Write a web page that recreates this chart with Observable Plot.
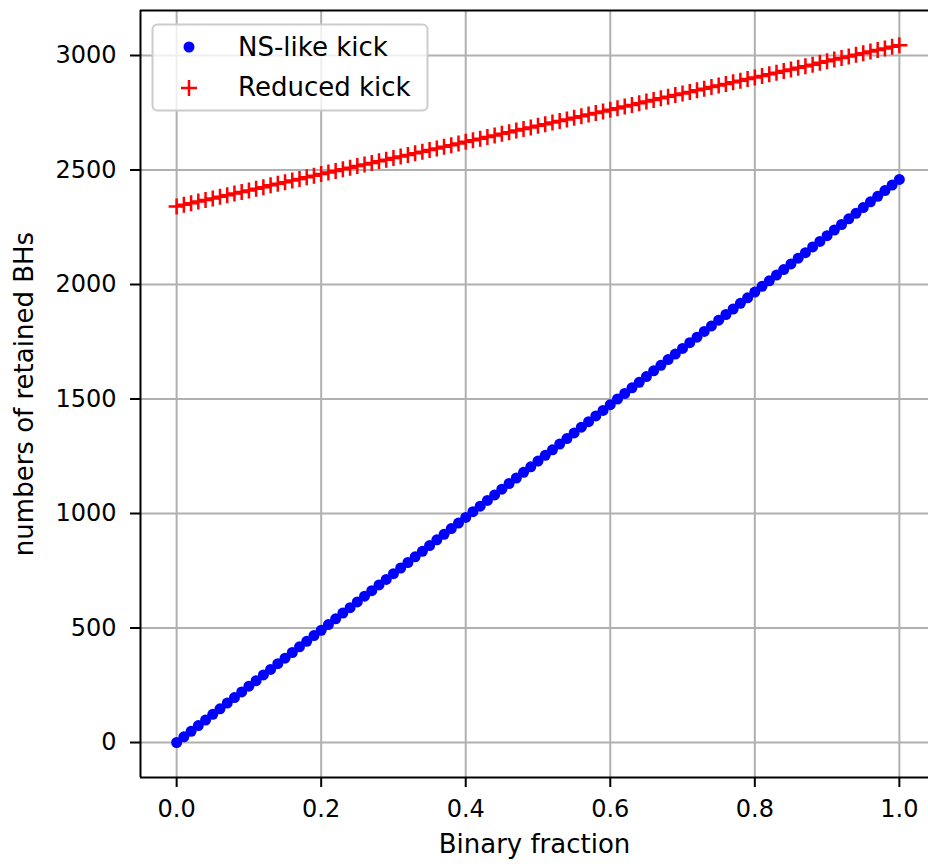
<!DOCTYPE html>
<html>
<head>
<meta charset="utf-8">
<script src="https://cdn.jsdelivr.net/npm/d3@7"></script>
<script src="https://cdn.jsdelivr.net/npm/@observablehq/plot@0.6"></script>
<style>
  html, body { margin: 0; padding: 0; background: #fff; }
  svg { display: block; }
</style>
</head>
<body>
<script>
// Binary fraction (x)
const binaryFraction = [
  0.00,0.01,0.02,0.03,0.04,0.05,0.06,0.07,0.08,0.09,
  0.10,0.11,0.12,0.13,0.14,0.15,0.16,0.17,0.18,0.19,
  0.20,0.21,0.22,0.23,0.24,0.25,0.26,0.27,0.28,0.29,
  0.30,0.31,0.32,0.33,0.34,0.35,0.36,0.37,0.38,0.39,
  0.40,0.41,0.42,0.43,0.44,0.45,0.46,0.47,0.48,0.49,
  0.50,0.51,0.52,0.53,0.54,0.55,0.56,0.57,0.58,0.59,
  0.60,0.61,0.62,0.63,0.64,0.65,0.66,0.67,0.68,0.69,
  0.70,0.71,0.72,0.73,0.74,0.75,0.76,0.77,0.78,0.79,
  0.80,0.81,0.82,0.83,0.84,0.85,0.86,0.87,0.88,0.89,
  0.90,0.91,0.92,0.93,0.94,0.95,0.96,0.97,0.98,0.99,
  1.00
];
// NS-like kick: numbers of retained BHs
const nsLikeKick = [
  0,25,49,74,98,123,147,172,196,221,
  246,270,295,319,344,368,393,418,442,467,
  490,515,540,565,589,614,639,663,688,712,
  737,762,786,811,835,860,885,909,934,958,
  983,1008,1032,1057,1081,1106,1131,1155,1180,1204,
  1229,1254,1278,1303,1327,1352,1377,1401,1426,1450,
  1475,1500,1524,1549,1573,1598,1623,1647,1672,1696,
  1721,1746,1770,1795,1819,1844,1869,1893,1918,1942,
  1967,1992,2016,2041,2065,2090,2115,2139,2164,2188,
  2213,2238,2262,2287,2311,2336,2361,2385,2410,2434,
  2459
];
// Reduced kick: numbers of retained BHs
const reducedKick = [
  2341,2348,2355,2362,2369,2376,2383,2390,2397,2404,
  2411,2418,2425,2433,2440,2447,2454,2461,2468,2475,
  2482,2489,2496,2503,2510,2517,2524,2531,2538,2545,
  2552,2559,2566,2573,2580,2587,2594,2601,2608,2616,
  2623,2630,2637,2644,2651,2658,2665,2672,2679,2686,
  2693,2700,2707,2714,2721,2728,2735,2742,2749,2756,
  2763,2770,2777,2784,2792,2799,2806,2813,2820,2827,
  2834,2841,2848,2855,2862,2869,2876,2883,2890,2897,
  2904,2911,2918,2925,2932,2939,2946,2953,2960,2968,
  2975,2982,2989,2996,3003,3010,3017,3024,3031,3038,
  3045
];
const xTicks = [0.0, 0.2, 0.4, 0.6, 0.8, 1.0];
const yTicks = [0, 500, 1000, 1500, 2000, 2500, 3000];
const seriesNames = ["NS-like kick", "Reduced kick"];
const seriesColors = ["#0000ff", "#ff0000"];
const xLabel = "Binary fraction";
const yLabel = "numbers of retained BHs";

const nsData = binaryFraction.map((x, i) => ({x, y: nsLikeKick[i]}));
const redData = binaryFraction.map((x, i) => ({x, y: reducedKick[i]}));

// matplotlib-style stroked "+" marker
const plusSymbol = {
  draw(context, size) {
    const s = Math.sqrt(size / Math.PI);
    context.moveTo(-s, 0); context.lineTo(s, 0);
    context.moveTo(0, -s); context.lineTo(0, s);
  }
};

const xDomain = [-0.05, 1.05];
const yDomain = [-152.8, 3196.5];

const chart = Plot.plot({
  width: 928,
  height: 864,
  marginLeft: 140,
  marginTop: 10,
  marginBottom: 87,
  marginRight: 0,
  x: {domain: xDomain, range: [140, 935]},
  y: {domain: yDomain, range: [777, 10]},
  style: {fontFamily: "'DejaVu Sans', sans-serif", fontSize: "24px", color: "#000", background: "#fff", overflow: "hidden"},
  marks: [
    Plot.gridX(xTicks, {stroke: "#b0b0b0", strokeOpacity: 1, strokeWidth: 2}),
    Plot.gridY(yTicks, {stroke: "#b0b0b0", strokeOpacity: 1, strokeWidth: 2}),
    Plot.axisX(xTicks, {tickFormat: d => d.toFixed(1), tickSize: 10, tickPadding: 12, strokeWidth: 2, fontSize: 24, label: null}),
    Plot.axisY(yTicks, {tickFormat: d3.format("d"), tickSize: 10, tickPadding: 14, strokeWidth: 2, fontSize: 24, label: null}),
    Plot.dot(nsData, {x: "x", y: "y", r: 5.5, fill: seriesColors[0], stroke: null}),
    Plot.dot(redData, {x: "x", y: "y", r: 8, symbol: plusSymbol, stroke: seriesColors[1], strokeWidth: 2.5, fill: "none"}),
    Plot.ruleX([xDomain[0]], {stroke: "#000", strokeWidth: 2}),
    Plot.ruleY(yDomain, {stroke: "#000", strokeWidth: 2}),
    Plot.text([xLabel], {frameAnchor: "bottom", lineAnchor: "top", textAnchor: "middle", dy: 57, fontSize: 26, fill: "#000"}),
    Plot.text([yLabel], {frameAnchor: "left", lineAnchor: "top", textAnchor: "middle", rotate: -90, dx: -125.5, fontSize: 26, fill: "#000"})
  ]
});

// Legend (matplotlib-style, inside axes, upper left)
const svg = d3.select(chart);
const lg = svg.append("g")
  .attr("font-family", "'DejaVu Sans', sans-serif")
  .attr("font-size", 26)
  .attr("text-anchor", "start");
lg.append("rect")
  .attr("x", 152.5).attr("y", 24.5).attr("width", 275).attr("height", 86)
  .attr("rx", 5).attr("ry", 5)
  .attr("fill", "#fff").attr("fill-opacity", 0.8)
  .attr("stroke", "#cccccc").attr("stroke-width", 2);
lg.append("circle").attr("cx", 189).attr("cy", 47).attr("r", 5.5).attr("fill", seriesColors[0]);
lg.append("path").attr("d", "M181,88H197M189,80V96").attr("stroke", seriesColors[1]).attr("stroke-width", 2.5).attr("fill", "none");
lg.append("text").attr("x", 238).attr("y", 56).attr("text-anchor", "start").attr("fill", "#000").text(seriesNames[0]);
lg.append("text").attr("x", 238).attr("y", 96).attr("text-anchor", "start").attr("fill", "#000").text(seriesNames[1]);

document.body.appendChild(chart);
</script>
</body>
</html>
